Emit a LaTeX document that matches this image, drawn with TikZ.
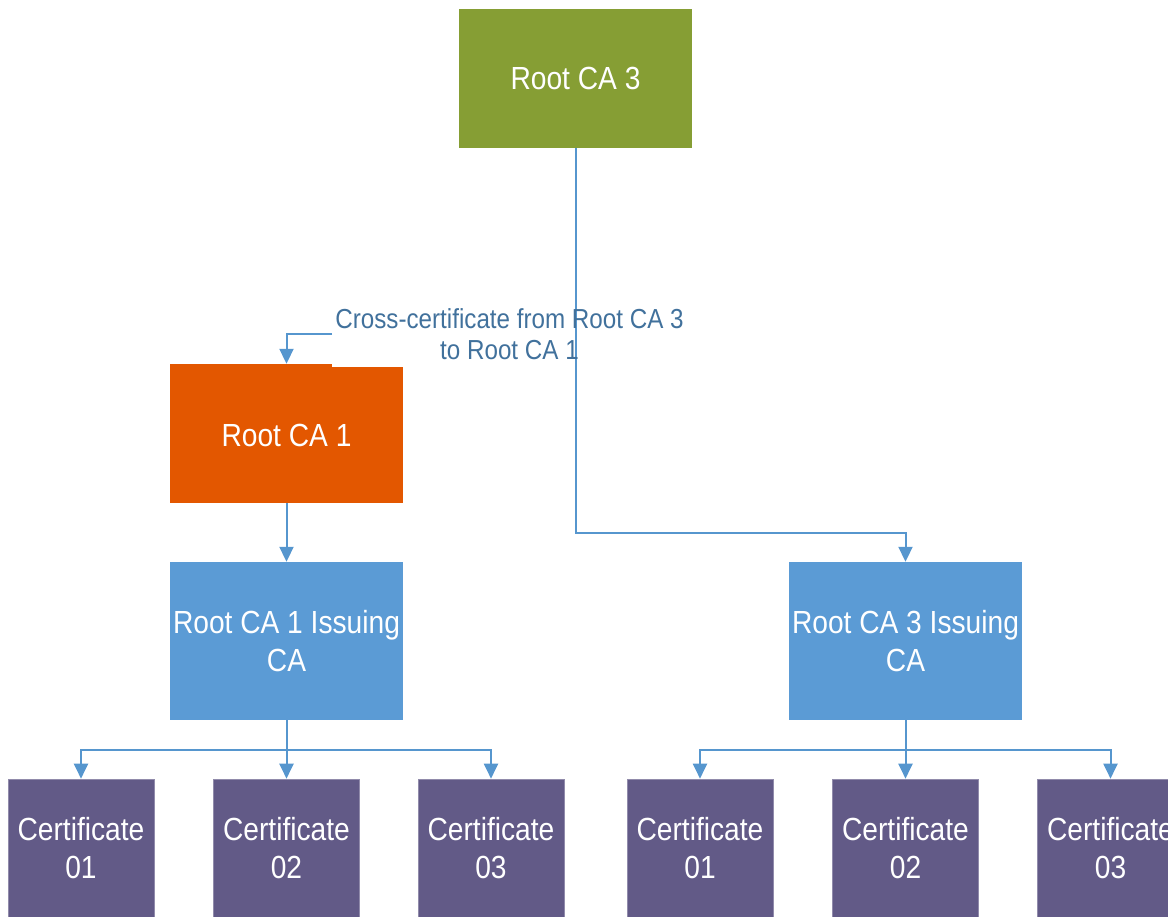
\documentclass[tikz,border=0pt]{standalone}
\usepackage{fontspec}
\setmainfont{Liberation Sans}[FakeStretch=0.88]
\usetikzlibrary{arrows.meta}
\definecolor{cgreen}{HTML}{869E34}
\definecolor{corange}{HTML}{E35700}
\definecolor{cblue}{HTML}{5B9BD5}
\definecolor{cpurple}{HTML}{625A87}
\definecolor{cline}{HTML}{5696CE}
\definecolor{ctext}{HTML}{41719C}
\begin{document}
\begin{tikzpicture}[x=1pt,y=-1pt,
  box/.style={rectangle, minimum width=233pt, text=white, inner sep=0pt,
    font=\fontsize{32}{38}\selectfont, align=center},
  certbox/.style={box, fill=cpurple, draw=cpurple!70!white, line width=0.6pt, minimum width=146pt, minimum height=138pt},
  conn/.style={draw=cline, line width=2pt},
  arr/.style={conn, -{Triangle[length=15pt,width=14pt]}},
  lbl/.style={text=ctext, inner sep=0pt, font=\fontsize{27.5}{31}\selectfont, align=center}]
\useasboundingbox (0,0) rectangle (1168,917);

\node[box, fill=cgreen, minimum height=139pt] (rca3) at (575.5,78.5) {Root CA 3};
\node[box, fill=corange, minimum height=136pt] (rca1) at (286.5,435) {Root CA 1};
\fill[corange] (rca1.north west) rectangle (332,364);
\node[box, fill=cblue, minimum height=158pt] (ica1) at (286.5,641) {Root CA 1 Issuing\\CA};
\node[box, fill=cblue, minimum height=158pt] (ica3) at (905.5,641) {Root CA 3 Issuing\\CA};

\node[certbox] (c11) at (81,848) {Certificate\\01};
\node[certbox] (c12) at (286.5,848) {Certificate\\02};
\node[certbox] (c13) at (491,848) {Certificate\\03};
\node[certbox] (c31) at (700,848) {Certificate\\01};
\node[certbox] (c32) at (905.5,848) {Certificate\\02};
\node[certbox] (c33) at (1110.5,848) {Certificate\\03};

% connectors
\coordinate (bend3) at (575.5,533);
\draw[arr] (rca3.south) -- (bend3) -| (ica3.north);
\draw[arr] (rca1.south) -- (ica1.north);

\coordinate (j1) at (286.5,750);
\draw[arr] (ica1.south) -- (c12.north);
\draw[arr] (j1) -| (c11.north);
\draw[arr] (j1) -| (c13.north);

\coordinate (j3) at (905.5,750);
\draw[arr] (ica3.south) -- (c32.north);
\draw[arr] (j3) -| (c31.north);
\draw[arr] (j3) -| (c33.north);

\node[lbl] (xlbl) at (509.5,334.5) {Cross-certificate from Root CA 3\\to Root CA 1};
\coordinate (xstart) at (332,334);
\draw[arr] (xstart) -| ([yshift=3pt]rca1.north);
\end{tikzpicture}
\end{document}
